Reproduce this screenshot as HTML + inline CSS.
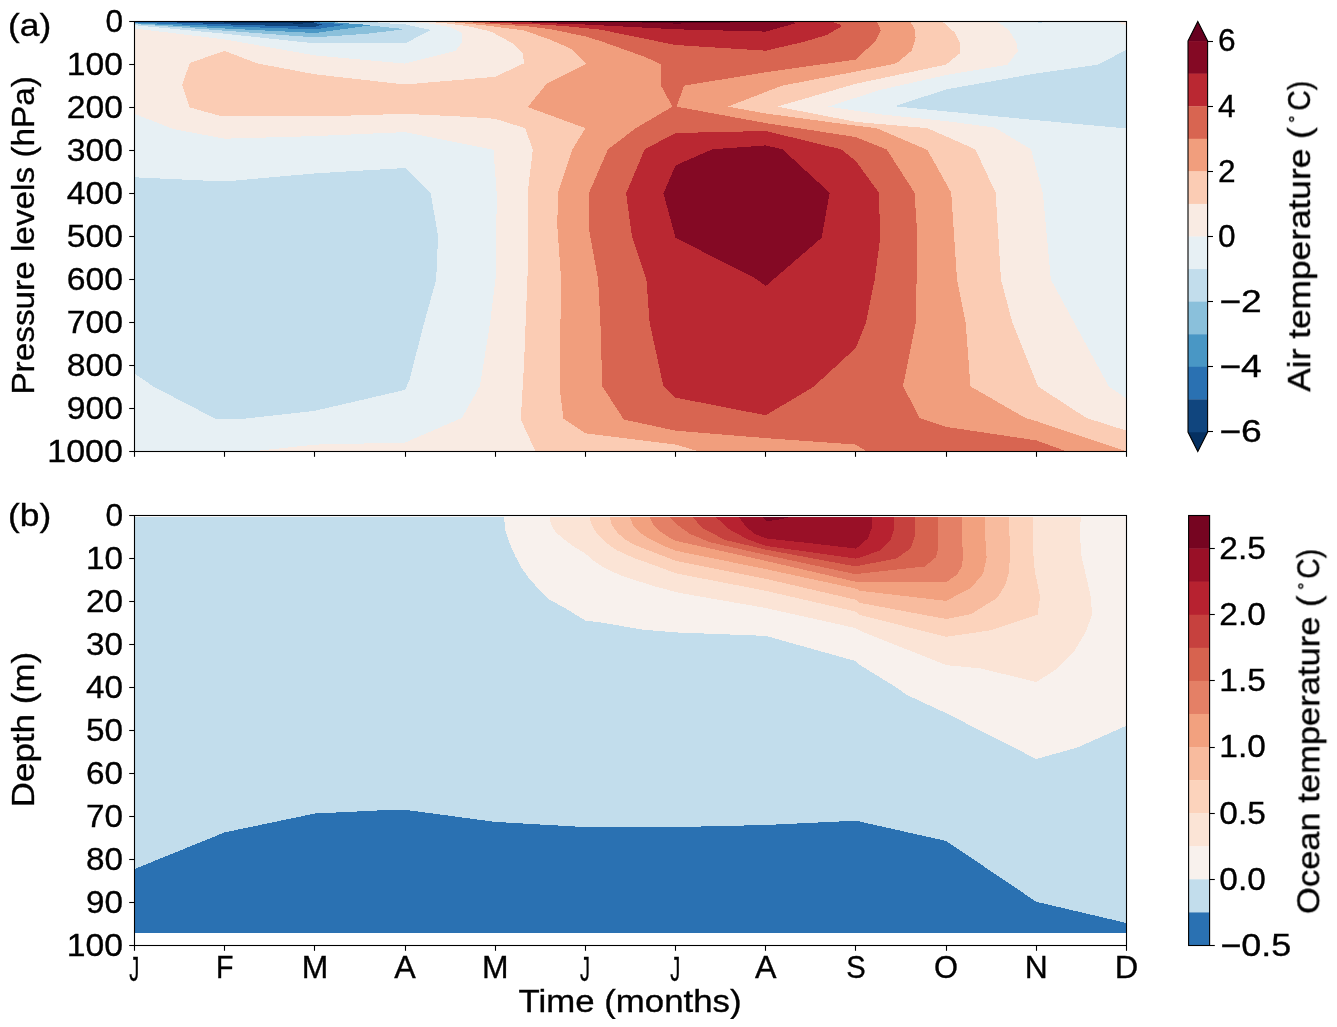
<!DOCTYPE html>
<html><head><meta charset="utf-8"><title>Figure</title>
<style>
html,body{margin:0;padding:0;background:#fff;}
body{width:1337px;height:1027px;overflow:hidden;font-family:"Liberation Sans",sans-serif;}
svg{display:block}
svg text{font-family:"Liberation Sans",sans-serif;font-size:31.0px;fill:#000;stroke:#000;stroke-width:0.35px;}
</style></head><body>
<svg width="1337" height="1027" viewBox="0 0 1337 1027">
<rect width="1337" height="1027" fill="#fff"/>
<g shape-rendering="crispEdges">
<rect x="134.5" y="21.5" width="992.0" height="430.0" fill="#f9ebe3"/>
<polygon points="134.5,21.5 134.5,28.5 224.7,39.4 314.9,55.4 405.0,63.6 455.6,50.9 462.3,41.9 462.3,33.0 449.6,27.0 427.0,23.2 400.0,21.5" fill="#e7f0f4"/>
<polygon points="134.5,113.8 173.2,129.0 224.7,138.7 314.9,136.1 405.0,132.1 493.5,149.9 496.7,193.4 496.0,274.7 490.2,322.3 480.0,385.7 462.0,417.9 405.0,442.6 314.9,444.6 251.0,451.5 134.5,451.5" fill="#e7f0f4"/>
<polygon points="828.2,106.6 880.0,90.0 946.2,75.0 1007.6,64.7 1017.9,51.0 1016.3,42.3 1008.5,29.6 996.8,21.5 1126.5,21.5 1126.5,398.6 1108.8,386.4 1050.9,279.6 1042.8,192.7 1031.0,149.3 994.9,127.6 946.2,121.1 880.0,114.3" fill="#e7f0f4"/>
<polygon points="1116.0,21.5 1126.5,21.5 1126.5,25.7" fill="#f9ebe3"/>
<polygon points="1033.0,21.5 1040.0,22.9 1048.0,21.5" fill="#c2ddec"/>
<polygon points="134.5,21.5 134.5,25.2 224.7,33.7 314.9,43.4 405.0,43.4 430.9,30.0 404.7,24.3 383.8,23.2 370.0,21.5" fill="#c2ddec"/>
<polygon points="134.5,177.3 224.7,181.5 314.9,173.4 405.0,168.0 430.7,193.4 438.1,236.1 436.2,279.6 424.3,322.3 409.2,380.9 405.0,389.9 314.9,410.8 244.0,418.7 214.8,418.5 153.4,386.5 134.5,373.5" fill="#c2ddec"/>
<polygon points="894.6,106.3 946.2,89.4 1036.3,73.4 1098.1,64.7 1126.5,49.7 1126.5,128.5 1036.3,120.2 946.2,111.4" fill="#c2ddec"/>
<polygon points="134.5,21.5 134.5,24.0 224.7,30.7 314.9,37.4 367.3,33.7 405.0,29.2 367.3,25.2 345.0,23.3 330.0,21.5" fill="#8ac0db"/>
<polygon points="134.5,21.5 134.5,23.3 224.7,28.5 314.9,33.0 371.8,25.2 344.9,23.2 320.0,21.5" fill="#4997c5"/>
<polygon points="134.5,21.5 134.5,22.6 224.7,26.2 314.9,29.5 344.9,24.7 330.0,23.0 300.0,21.5" fill="#2a71b2"/>
<polygon points="150.0,21.5 224.7,24.3 314.9,27.0 322.4,24.3 310.0,22.5 280.0,21.5" fill="#10457e"/>
<polygon points="212.0,21.5 224.7,22.6 300.0,23.6 321.0,23.0 300.0,21.5" fill="#053061"/>
<polygon points="425.0,21.5 444.9,23.3 467.3,26.0 489.8,31.2 495.2,33.8 513.7,43.9 522.7,52.9 524.0,63.3 495.2,76.8 405.0,84.5 314.9,74.3 257.2,63.4 224.7,50.9 189.8,62.9 182.1,85.3 189.8,107.4 221.6,116.3 325.8,116.3 405.0,113.8 470.0,117.0 495.2,118.8 525.2,128.2 532.8,149.9 527.7,192.7 528.2,258.7 524.0,364.8 520.8,419.5 535.6,451.5 1126.5,451.5 1126.5,430.7 1086.3,417.9 1038.0,386.4 1012.3,322.3 1001.0,279.6 995.6,192.7 975.3,149.3 927.4,128.2 856.0,121.9 777.3,106.6 856.0,83.7 946.2,64.6 960.0,53.1 960.0,43.0 955.0,32.8 942.3,21.5" fill="#fbccb4"/>
<polygon points="445.0,21.5 459.8,23.0 483.8,25.2 495.2,26.7 524.2,30.5 549.6,39.4 572.0,49.2 586.2,63.8 546.8,83.7 527.7,107.0 585.4,128.2 572.2,149.9 557.9,192.7 557.3,226.5 561.1,279.6 559.5,386.4 563.4,418.5 585.4,433.3 675.6,444.6 699.4,451.5 1126.5,451.5 1036.3,421.1 1025.2,417.9 970.5,386.4 965.6,322.3 957.0,279.6 951.2,192.7 927.4,149.9 876.5,128.2 856.0,125.7 765.8,113.5 727.7,106.6 782.0,85.7 856.0,71.5 896.5,63.3 911.8,50.6 915.6,37.9 914.3,27.7 910.0,21.5" fill="#f19e7d"/>
<polygon points="462.0,21.5 477.8,23.0 495.2,24.2 527.2,26.3 549.6,29.0 585.4,36.4 600.0,40.9 645.0,56.9 661.3,64.6 661.3,86.2 672.5,106.6 676.5,106.6 684.1,85.7 765.8,72.2 856.0,59.5 876.0,40.4 880.8,30.3 877.0,21.5" fill="#d86551"/>
<polygon points="672.5,106.6 635.8,128.2 608.0,149.3 589.1,192.7 589.1,229.7 598.1,279.6 600.4,322.3 602.3,386.4 623.8,419.5 675.6,430.7 765.8,438.1 856.0,444.6 866.7,451.5 1067.0,451.5 1036.3,440.4 946.2,426.9 919.7,417.9 903.0,386.0 915.8,322.3 917.4,236.1 914.5,192.7 886.8,149.5 856.0,137.1 765.8,123.1 676.5,106.6" fill="#d86551"/>
<polygon points="480.0,21.5 495.2,23.0 534.6,24.2 564.5,26.0 585.4,28.2 600.2,29.6 675.6,45.0 765.8,50.7 804.4,41.7 826.8,35.0 840.3,27.1 841.4,24.9 831.0,21.5" fill="#ba2832"/>
<polygon points="675.6,133.0 765.8,131.0 841.0,149.3 856.0,161.2 878.9,192.7 880.2,237.8 874.7,279.6 866.0,322.3 856.0,347.8 813.6,386.7 765.8,415.3 675.6,397.6 663.4,386.4 649.6,322.3 646.4,279.6 631.9,236.1 626.1,193.4 644.7,149.3" fill="#ba2832"/>
<polygon points="520.0,21.5 534.6,22.7 585.4,24.5 675.6,29.3 765.8,31.6 795.4,23.3 793.0,21.5" fill="#840924"/>
<polygon points="612.0,21.5 675.6,23.6 720.0,22.8 765.8,21.5" fill="#67001f"/>
<polygon points="712.3,149.3 765.8,145.4 782.4,149.3 829.7,192.7 821.6,237.8 765.8,286.0 755.7,278.6 675.6,237.8 663.4,193.4 675.6,165.4" fill="#840924"/>
</g>
<g shape-rendering="crispEdges">
<rect x="134.5" y="517.2" width="992.0" height="415.7" fill="#c2ddec"/>
<polygon points="134.5,869.0 224.7,832.4 314.9,813.5 392.0,809.8 405.0,809.8 495.2,821.9 585.4,827.1 675.6,827.1 765.8,825.0 856.0,820.7 946.2,841.0 1036.3,901.8 1126.5,923.0 1126.5,932.9 134.5,932.9" fill="#2a71b2"/>
<polygon points="504.2,517.2 505.0,529.4 509.4,542.9 515.4,556.4 521.4,567.6 528.9,578.1 539.4,590.0 549.8,599.8 564.8,608.0 585.4,620.5 600.7,622.4 642.6,629.7 675.6,632.4 765.8,635.9 856.0,661.2 860.0,665.1 898.4,688.7 906.0,694.5 946.2,713.2 1036.3,759.0 1077.4,747.5 1126.5,725.7 1126.5,517.2" fill="#f8f1ed"/>
<polygon points="549.5,517.2 551.3,525.0 555.8,532.4 564.8,539.9 573.8,546.6 585.4,553.6 594.7,561.6 603.7,567.6 621.6,575.8 654.5,586.3 680.0,593.0 765.8,608.0 856.0,628.2 860.0,630.8 946.2,665.1 981.2,668.5 1036.3,682.1 1055.9,669.5 1074.1,651.4 1086.2,631.2 1091.8,615.0 1091.2,598.9 1086.2,576.6 1081.1,554.4 1080.1,534.2 1080.7,517.2" fill="#fbe4d6"/>
<polygon points="589.5,517.2 591.7,525.0 596.2,532.4 605.2,542.2 617.2,550.4 633.6,557.9 654.6,565.3 675.6,573.3 765.8,590.8 856.0,611.7 860.0,615.0 946.2,636.8 991.3,630.2 1037.7,614.6 1040.1,596.8 1034.7,570.6 1033.1,550.4 1033.1,517.2" fill="#fcd3bc"/>
<polygon points="609.7,517.2 611.9,525.0 617.2,532.4 624.6,539.2 635.1,545.2 654.6,552.6 675.6,560.8 765.8,578.8 856.0,599.8 860.0,602.9 946.2,619.0 971.1,614.0 997.3,597.8 1005.4,584.7 1009.4,570.6 1009.8,546.3 1009.0,517.2" fill="#f8bb9e"/>
<polygon points="629.9,517.2 632.9,525.0 639.6,532.4 650.1,539.2 662.0,545.2 675.6,550.7 765.8,569.1 856.0,588.7 860.0,590.8 946.2,600.9 971.1,587.7 983.2,573.6 986.6,557.5 985.2,536.3 984.8,517.2" fill="#f2a17f"/>
<polygon points="649.8,517.2 653.0,524.2 660.5,531.7 669.5,537.7 675.6,540.8 765.8,560.9 856.0,581.8 946.2,582.3 956.9,574.6 962.0,566.5 963.0,556.4 961.6,530.2 962.0,517.2" fill="#e48066"/>
<polygon points="669.5,517.2 674.0,522.0 681.5,528.0 690.0,533.9 709.9,542.2 765.8,554.9 856.0,574.3 860.0,573.6 924.6,566.5 935.7,557.5 937.7,550.4 937.7,517.2" fill="#d7634f"/>
<polygon points="692.7,517.2 702.4,528.0 724.9,539.9 765.8,549.6 856.0,566.5 860.0,565.5 896.3,558.5 910.5,548.4 914.9,536.3 915.5,517.2" fill="#c6413e"/>
<polygon points="715.9,517.2 729.4,529.4 747.3,539.2 765.8,545.9 856.0,558.6 860.0,557.5 880.2,550.4 890.3,540.3 893.9,530.2 893.9,517.2" fill="#b72230"/>
<polygon points="739.1,517.2 745.8,526.5 754.8,533.9 765.8,538.4 814.6,543.7 856.0,548.6 860.0,545.3 868.0,538.3 871.7,528.2 871.7,517.2" fill="#991027"/>
<polygon points="763.0,517.2 766.8,521.3 777.2,519.8 790.0,517.2" fill="#760521"/>
</g>
<g stroke="#000" stroke-width="1.10" fill="none" stroke-linecap="butt">
<rect x="134.5" y="21.5" width="992.0" height="430.0"/>
<rect x="134.5" y="515.5" width="992.0" height="430.0"/>
<line x1="134.50" y1="451.50" x2="134.50" y2="456.80"/>
<line x1="134.50" y1="945.50" x2="134.50" y2="950.80"/>
<line x1="224.50" y1="451.50" x2="224.50" y2="456.80"/>
<line x1="224.50" y1="945.50" x2="224.50" y2="950.80"/>
<line x1="314.50" y1="451.50" x2="314.50" y2="456.80"/>
<line x1="314.50" y1="945.50" x2="314.50" y2="950.80"/>
<line x1="405.50" y1="451.50" x2="405.50" y2="456.80"/>
<line x1="405.50" y1="945.50" x2="405.50" y2="950.80"/>
<line x1="495.50" y1="451.50" x2="495.50" y2="456.80"/>
<line x1="495.50" y1="945.50" x2="495.50" y2="950.80"/>
<line x1="585.50" y1="451.50" x2="585.50" y2="456.80"/>
<line x1="585.50" y1="945.50" x2="585.50" y2="950.80"/>
<line x1="675.50" y1="451.50" x2="675.50" y2="456.80"/>
<line x1="675.50" y1="945.50" x2="675.50" y2="950.80"/>
<line x1="765.50" y1="451.50" x2="765.50" y2="456.80"/>
<line x1="765.50" y1="945.50" x2="765.50" y2="950.80"/>
<line x1="855.50" y1="451.50" x2="855.50" y2="456.80"/>
<line x1="855.50" y1="945.50" x2="855.50" y2="950.80"/>
<line x1="946.50" y1="451.50" x2="946.50" y2="456.80"/>
<line x1="946.50" y1="945.50" x2="946.50" y2="950.80"/>
<line x1="1036.50" y1="451.50" x2="1036.50" y2="456.80"/>
<line x1="1036.50" y1="945.50" x2="1036.50" y2="950.80"/>
<line x1="1126.50" y1="451.50" x2="1126.50" y2="456.80"/>
<line x1="1126.50" y1="945.50" x2="1126.50" y2="950.80"/>
<line x1="129.20" y1="21.50" x2="134.50" y2="21.50"/>
<line x1="129.20" y1="515.50" x2="134.50" y2="515.50"/>
<line x1="129.20" y1="64.50" x2="134.50" y2="64.50"/>
<line x1="129.20" y1="558.50" x2="134.50" y2="558.50"/>
<line x1="129.20" y1="107.50" x2="134.50" y2="107.50"/>
<line x1="129.20" y1="601.50" x2="134.50" y2="601.50"/>
<line x1="129.20" y1="150.50" x2="134.50" y2="150.50"/>
<line x1="129.20" y1="644.50" x2="134.50" y2="644.50"/>
<line x1="129.20" y1="193.50" x2="134.50" y2="193.50"/>
<line x1="129.20" y1="687.50" x2="134.50" y2="687.50"/>
<line x1="129.20" y1="236.50" x2="134.50" y2="236.50"/>
<line x1="129.20" y1="730.50" x2="134.50" y2="730.50"/>
<line x1="129.20" y1="279.50" x2="134.50" y2="279.50"/>
<line x1="129.20" y1="773.50" x2="134.50" y2="773.50"/>
<line x1="129.20" y1="322.50" x2="134.50" y2="322.50"/>
<line x1="129.20" y1="816.50" x2="134.50" y2="816.50"/>
<line x1="129.20" y1="365.50" x2="134.50" y2="365.50"/>
<line x1="129.20" y1="859.50" x2="134.50" y2="859.50"/>
<line x1="129.20" y1="408.50" x2="134.50" y2="408.50"/>
<line x1="129.20" y1="902.50" x2="134.50" y2="902.50"/>
<line x1="129.20" y1="451.50" x2="134.50" y2="451.50"/>
<line x1="129.20" y1="945.50" x2="134.50" y2="945.50"/>
</g>
<clipPath id="cba"><polygon points="1188.0,41.0 1197.8,21.5 1207.6,41.0 1207.6,432.0 1197.8,451.5 1188.0,432.0"/></clipPath>
<g clip-path="url(#cba)">
<rect x="1188.0" y="20.5" width="19.6" height="20.8" fill="#67001f"/>
<rect x="1188.0" y="431.7" width="19.6" height="20.8" fill="#053061"/>
<rect x="1188.0" y="41.05" width="19.6" height="32.88" fill="#840924"/>
<rect x="1188.0" y="73.62" width="19.6" height="32.88" fill="#ba2832"/>
<rect x="1188.0" y="106.20" width="19.6" height="32.88" fill="#d86551"/>
<rect x="1188.0" y="138.77" width="19.6" height="32.88" fill="#f19e7d"/>
<rect x="1188.0" y="171.35" width="19.6" height="32.88" fill="#fbccb4"/>
<rect x="1188.0" y="203.92" width="19.6" height="32.88" fill="#f9ebe3"/>
<rect x="1188.0" y="236.50" width="19.6" height="32.88" fill="#e7f0f4"/>
<rect x="1188.0" y="269.08" width="19.6" height="32.88" fill="#c2ddec"/>
<rect x="1188.0" y="301.65" width="19.6" height="32.88" fill="#8ac0db"/>
<rect x="1188.0" y="334.23" width="19.6" height="32.88" fill="#4997c5"/>
<rect x="1188.0" y="366.80" width="19.6" height="32.88" fill="#2a71b2"/>
<rect x="1188.0" y="399.38" width="19.6" height="32.88" fill="#10457e"/>
</g>
<polygon points="1188.0,41.0 1197.8,21.5 1207.6,41.0 1207.6,432.0 1197.8,451.5 1188.0,432.0" fill="none" stroke="#000" stroke-width="1.10" stroke-linejoin="miter"/>
<g stroke="#000" stroke-width="1.10">
<line x1="1207.60" y1="41.50" x2="1213.00" y2="41.50"/>
<line x1="1207.60" y1="106.50" x2="1213.00" y2="106.50"/>
<line x1="1207.60" y1="171.50" x2="1213.00" y2="171.50"/>
<line x1="1207.60" y1="236.50" x2="1213.00" y2="236.50"/>
<line x1="1207.60" y1="301.50" x2="1213.00" y2="301.50"/>
<line x1="1207.60" y1="366.50" x2="1213.00" y2="366.50"/>
<line x1="1207.60" y1="431.50" x2="1213.00" y2="431.50"/>
</g>
<rect x="1188.6" y="515.50" width="21.0" height="33.38" fill="#760521"/>
<rect x="1188.6" y="548.58" width="21.0" height="33.38" fill="#991027"/>
<rect x="1188.6" y="581.65" width="21.0" height="33.38" fill="#b72230"/>
<rect x="1188.6" y="614.73" width="21.0" height="33.38" fill="#c6413e"/>
<rect x="1188.6" y="647.81" width="21.0" height="33.38" fill="#d7634f"/>
<rect x="1188.6" y="680.88" width="21.0" height="33.38" fill="#e48066"/>
<rect x="1188.6" y="713.96" width="21.0" height="33.38" fill="#f2a17f"/>
<rect x="1188.6" y="747.04" width="21.0" height="33.38" fill="#f8bb9e"/>
<rect x="1188.6" y="780.12" width="21.0" height="33.38" fill="#fcd3bc"/>
<rect x="1188.6" y="813.19" width="21.0" height="33.38" fill="#fbe4d6"/>
<rect x="1188.6" y="846.27" width="21.0" height="33.38" fill="#f8f1ed"/>
<rect x="1188.6" y="879.35" width="21.0" height="33.38" fill="#c2ddec"/>
<rect x="1188.6" y="912.42" width="21.0" height="33.08" fill="#2a71b2"/>
<rect x="1188.6" y="515.5" width="21.0" height="430.0" fill="none" stroke="#000" stroke-width="1.10"/>
<g stroke="#000" stroke-width="1.10">
<line x1="1209.60" y1="945.50" x2="1214.80" y2="945.50"/>
<line x1="1209.60" y1="879.50" x2="1214.80" y2="879.50"/>
<line x1="1209.60" y1="813.50" x2="1214.80" y2="813.50"/>
<line x1="1209.60" y1="747.50" x2="1214.80" y2="747.50"/>
<line x1="1209.60" y1="680.50" x2="1214.80" y2="680.50"/>
<line x1="1209.60" y1="614.50" x2="1214.80" y2="614.50"/>
<line x1="1209.60" y1="548.50" x2="1214.80" y2="548.50"/>
</g>
<g style="opacity:0.999">
<text x="123.0" y="31.8" text-anchor="end" textLength="17.6" lengthAdjust="spacingAndGlyphs">0</text>
<text x="123.0" y="74.8" text-anchor="end" textLength="56.3" lengthAdjust="spacingAndGlyphs">100</text>
<text x="123.0" y="117.8" text-anchor="end" textLength="56.3" lengthAdjust="spacingAndGlyphs">200</text>
<text x="123.0" y="160.8" text-anchor="end" textLength="56.3" lengthAdjust="spacingAndGlyphs">300</text>
<text x="123.0" y="203.8" text-anchor="end" textLength="56.3" lengthAdjust="spacingAndGlyphs">400</text>
<text x="123.0" y="246.8" text-anchor="end" textLength="56.3" lengthAdjust="spacingAndGlyphs">500</text>
<text x="123.0" y="289.8" text-anchor="end" textLength="56.3" lengthAdjust="spacingAndGlyphs">600</text>
<text x="123.0" y="332.8" text-anchor="end" textLength="56.3" lengthAdjust="spacingAndGlyphs">700</text>
<text x="123.0" y="375.8" text-anchor="end" textLength="56.3" lengthAdjust="spacingAndGlyphs">800</text>
<text x="123.0" y="418.8" text-anchor="end" textLength="56.3" lengthAdjust="spacingAndGlyphs">900</text>
<text x="123.0" y="461.8" text-anchor="end" textLength="75.8" lengthAdjust="spacingAndGlyphs">1000</text>
<text x="123.0" y="525.8" text-anchor="end" textLength="17.6" lengthAdjust="spacingAndGlyphs">0</text>
<text x="123.0" y="568.8" text-anchor="end" textLength="37.0" lengthAdjust="spacingAndGlyphs">10</text>
<text x="123.0" y="611.8" text-anchor="end" textLength="37.0" lengthAdjust="spacingAndGlyphs">20</text>
<text x="123.0" y="654.8" text-anchor="end" textLength="37.0" lengthAdjust="spacingAndGlyphs">30</text>
<text x="123.0" y="697.8" text-anchor="end" textLength="37.0" lengthAdjust="spacingAndGlyphs">40</text>
<text x="123.0" y="740.8" text-anchor="end" textLength="37.0" lengthAdjust="spacingAndGlyphs">50</text>
<text x="123.0" y="783.8" text-anchor="end" textLength="37.0" lengthAdjust="spacingAndGlyphs">60</text>
<text x="123.0" y="826.8" text-anchor="end" textLength="37.0" lengthAdjust="spacingAndGlyphs">70</text>
<text x="123.0" y="869.8" text-anchor="end" textLength="37.0" lengthAdjust="spacingAndGlyphs">80</text>
<text x="123.0" y="912.8" text-anchor="end" textLength="37.0" lengthAdjust="spacingAndGlyphs">90</text>
<text x="123.0" y="955.8" text-anchor="end" textLength="56.3" lengthAdjust="spacingAndGlyphs">100</text>
<text x="134.2" y="981.2" text-anchor="middle" textLength="10.0" lengthAdjust="spacingAndGlyphs" style="font-size:34.5px">J</text>
<text x="224.7" y="978.4" text-anchor="middle" textLength="17.5" lengthAdjust="spacingAndGlyphs">F</text>
<text x="314.9" y="978.4" text-anchor="middle" textLength="26.5" lengthAdjust="spacingAndGlyphs">M</text>
<text x="405.0" y="978.4" text-anchor="middle" textLength="21.5" lengthAdjust="spacingAndGlyphs">A</text>
<text x="495.2" y="978.4" text-anchor="middle" textLength="26.5" lengthAdjust="spacingAndGlyphs">M</text>
<text x="585.1" y="981.2" text-anchor="middle" textLength="10.0" lengthAdjust="spacingAndGlyphs" style="font-size:34.5px">J</text>
<text x="675.3" y="981.2" text-anchor="middle" textLength="10.0" lengthAdjust="spacingAndGlyphs" style="font-size:34.5px">J</text>
<text x="765.8" y="978.4" text-anchor="middle" textLength="21.5" lengthAdjust="spacingAndGlyphs">A</text>
<text x="856.0" y="978.4" text-anchor="middle" textLength="19.5" lengthAdjust="spacingAndGlyphs">S</text>
<text x="946.1" y="978.4" text-anchor="middle" textLength="24.0" lengthAdjust="spacingAndGlyphs">O</text>
<text x="1036.3" y="978.4" text-anchor="middle" textLength="23.0" lengthAdjust="spacingAndGlyphs">N</text>
<text x="1126.5" y="978.4" text-anchor="middle" textLength="23.5" lengthAdjust="spacingAndGlyphs">D</text>
<text x="630.0" y="1011.6" text-anchor="middle" textLength="223.0" lengthAdjust="spacingAndGlyphs">Time (months)</text>
<text x="8.0" y="35.7" textLength="43.2" lengthAdjust="spacingAndGlyphs" style="font-size:32.0px">(a)</text>
<text x="8.0" y="525.6" textLength="43.2" lengthAdjust="spacingAndGlyphs" style="font-size:32.0px">(b)</text>
<text x="34.1" y="394.6" textLength="318.5" lengthAdjust="spacingAndGlyphs" transform="rotate(-90 34.1 394.6)">Pressure levels (hPa)</text>
<text x="33.9" y="807.3" textLength="155.5" lengthAdjust="spacingAndGlyphs" transform="rotate(-90 33.9 807.3)">Depth (m)</text>
<g transform="rotate(-90 1309.8 391.7)"><text x="1309.8" y="391.7" textLength="264.5" lengthAdjust="spacingAndGlyphs">Air temperature (</text><text x="1578.8" y="383.6" style="font-size:18.0px">°</text><text x="1590.8" y="391.7" textLength="30.0" lengthAdjust="spacingAndGlyphs">C)</text></g>
<g transform="rotate(-90 1319.3 914.0)"><text x="1319.3" y="914.0" textLength="318.5" lengthAdjust="spacingAndGlyphs">Ocean temperature (</text><text x="1643.6" y="905.9" style="font-size:18.0px">°</text><text x="1654.6" y="914.0" textLength="30.0" lengthAdjust="spacingAndGlyphs">C)</text></g>
<text x="1218.0" y="51.3" textLength="17.6" lengthAdjust="spacingAndGlyphs">6</text>
<text x="1218.0" y="116.5" textLength="17.6" lengthAdjust="spacingAndGlyphs">4</text>
<text x="1218.0" y="181.6" textLength="17.6" lengthAdjust="spacingAndGlyphs">2</text>
<text x="1218.0" y="246.8" textLength="17.6" lengthAdjust="spacingAndGlyphs">0</text>
<text x="1219.2" y="312.0" textLength="42.5" lengthAdjust="spacingAndGlyphs">−2</text>
<text x="1219.2" y="377.1" textLength="42.5" lengthAdjust="spacingAndGlyphs">−4</text>
<text x="1219.2" y="442.3" textLength="42.5" lengthAdjust="spacingAndGlyphs">−6</text>
<text x="1220.3" y="955.8" textLength="71.0" lengthAdjust="spacingAndGlyphs">−0.5</text>
<text x="1219.3" y="889.6" textLength="46.5" lengthAdjust="spacingAndGlyphs">0.0</text>
<text x="1219.3" y="823.5" textLength="46.5" lengthAdjust="spacingAndGlyphs">0.5</text>
<text x="1219.3" y="757.3" textLength="46.5" lengthAdjust="spacingAndGlyphs">1.0</text>
<text x="1219.3" y="691.2" textLength="46.5" lengthAdjust="spacingAndGlyphs">1.5</text>
<text x="1219.3" y="625.0" textLength="46.5" lengthAdjust="spacingAndGlyphs">2.0</text>
<text x="1219.3" y="558.9" textLength="46.5" lengthAdjust="spacingAndGlyphs">2.5</text>
</g>
</svg>
</body></html>
